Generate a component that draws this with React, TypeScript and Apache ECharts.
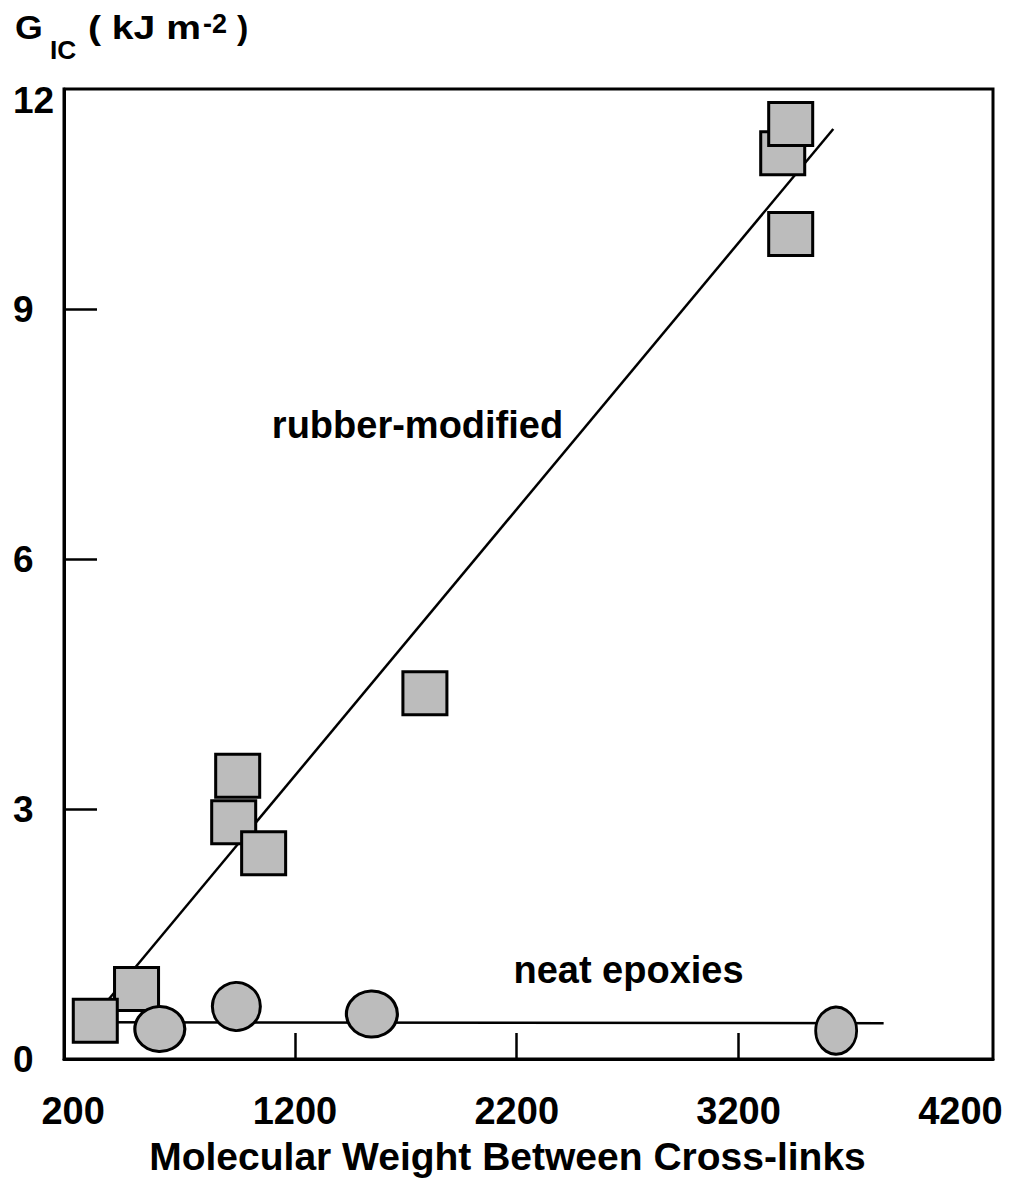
import React, { useEffect, useRef } from "react";
import * as echarts from "echarts";

// ---- data ----
const xLabelValues = [200, 1200, 2200, 3200, 4200];
const xTickValues = [1200, 2200, 3200];
const yLabelValues = [0, 3, 6, 9, 11.5];
const yLabelTexts = ["0", "3", "6", "9", "12"];
const yTickValues = [3, 6, 9];

// rubber-modified epoxies (squares): [Mc, GIC]
const rubberPoints = [
  [486, 0.84],
  [300, 0.46],
  [942, 3.4],
  [924, 2.84],
  [1059, 2.47],
  [1786, 4.39],
  [3399, 10.87],
  [3435, 11.22],
  [3435, 9.9],
];
// neat epoxies (circles)
const neatPoints = [
  [591, 0.36],
  [936, 0.63],
  [1547, 0.54],
  [3640, 0.34],
];
const neatSizes = [
  [50, 45],
  [48, 48],
  [51, 46],
  [41, 47],
];
// fitted lines
const rubberFit = [
  [343, 0.66],
  [3627, 11.16],
];
const neatFit = [
  [300, 0.44],
  [3854, 0.43],
];
// annotation anchors
const annotations = [
  { name: "rubber-modified", value: [1096, 7.61] },
  { name: "neat epoxies", value: [2185, 1.07] },
];

const FONT = "'Liberation Sans', Arial, Helvetica, sans-serif";
const FILL = "#bcbcbc";

export default function App() {
  const ref = useRef<HTMLDivElement>(null);
  useEffect(() => {
    if (!ref.current) return;
    const chart = echarts.init(ref.current, null, { renderer: "svg" });
    const txt = (text: string, x: number, y: number, size: number, sx = 1) => ({
      type: "text",
      x,
      y,
      scaleX: sx,
      style: {
        text,
        fontSize: size,
        fontWeight: "bold",
        fontFamily: FONT,
        fill: "#000",
        verticalAlign: "middle",
        align: "left",
      },
    });
    chart.setOption({
      animation: false,
      backgroundColor: "#fff",
      grid: {
        left: 64,
        right: 26,
        top: 89,
        bottom: 136,
        show: true,
        borderColor: "#000",
        borderWidth: 3,
        containLabel: false,
      },
      xAxis: {
        type: "value",
        min: 159,
        max: 4347,
        splitLine: { show: false },
        axisLine: { show: true, lineStyle: { color: "#000", width: 3 } },
        axisTick: {
          show: true,
          inside: true,
          length: 26,
          customValues: xTickValues,
          lineStyle: { color: "#000", width: 2.5 },
        },
        axisLabel: {
          customValues: xLabelValues,
          formatter: (v: number) => String(v),
          fontSize: 38,
          fontWeight: "bold",
          fontFamily: FONT,
          color: "#000",
          margin: 33,
        },
        name: "Molecular Weight Between Cross-links",
        nameLocation: "middle",
        nameGap: 78,
        nameTextStyle: {
          fontSize: 39,
          fontWeight: "bold",
          fontFamily: FONT,
          color: "#000",
          padding: [0, 42, 0, 0],
        },
      },
      yAxis: {
        type: "value",
        min: 0,
        max: 11.64,
        splitLine: { show: false },
        axisLine: { show: true, lineStyle: { color: "#000", width: 3 } },
        axisTick: {
          show: true,
          inside: true,
          length: 33,
          customValues: yTickValues,
          lineStyle: { color: "#000", width: 2.5 },
        },
        axisLabel: {
          customValues: yLabelValues,
          formatter: (v: number) => {
            const i = yLabelValues.indexOf(v);
            return i >= 0 ? yLabelTexts[i] : "";
          },
          align: "left",
          margin: 51,
          fontSize: 37,
          fontWeight: "bold",
          fontFamily: FONT,
          color: "#000",
        },
      },
      graphic: [
        txt("G", 15, 27, 34, 1.05),
        txt("IC", 50, 50, 25, 1.05),
        txt("( kJ m", 88, 27, 34, 1.15),
        txt("-2", 203, 24, 27),
        txt(")", 237, 27, 34),
      ],
      series: [
        {
          type: "line",
          data: rubberFit,
          symbol: "none",
          lineStyle: { color: "#000", width: 2.5 },
          z: 1,
        },
        {
          type: "line",
          data: neatFit,
          symbol: "none",
          lineStyle: { color: "#000", width: 2.5 },
          z: 1,
        },
        {
          type: "scatter",
          data: rubberPoints,
          symbol: "rect",
          symbolSize: [44, 43],
          itemStyle: { color: FILL, borderColor: "#000", borderWidth: 3, opacity: 1 },
          z: 3,
        },
        {
          type: "scatter",
          data: neatPoints,
          symbol: "circle",
          symbolSize: (_v: any, p: any) => neatSizes[p.dataIndex],
          itemStyle: { color: FILL, borderColor: "#000", borderWidth: 3, opacity: 1 },
          z: 4,
        },
        {
          type: "scatter",
          data: annotations,
          symbolSize: 0,
          silent: true,
          itemStyle: { opacity: 1 },
          label: {
            show: true,
            position: "right",
            distance: 0,
            formatter: (p: any) => p.name,
            fontSize: 38,
            fontWeight: "bold",
            fontFamily: FONT,
            color: "#000",
            opacity: 1,
          },
          z: 5,
        },
      ],
    });
    return () => chart.dispose();
  }, []);
  return (
    <div
      ref={ref}
      style={{ position: "absolute", left: 0, top: 0, width: 1019, height: 1195, background: "#fff" }}
    />
  );
}
